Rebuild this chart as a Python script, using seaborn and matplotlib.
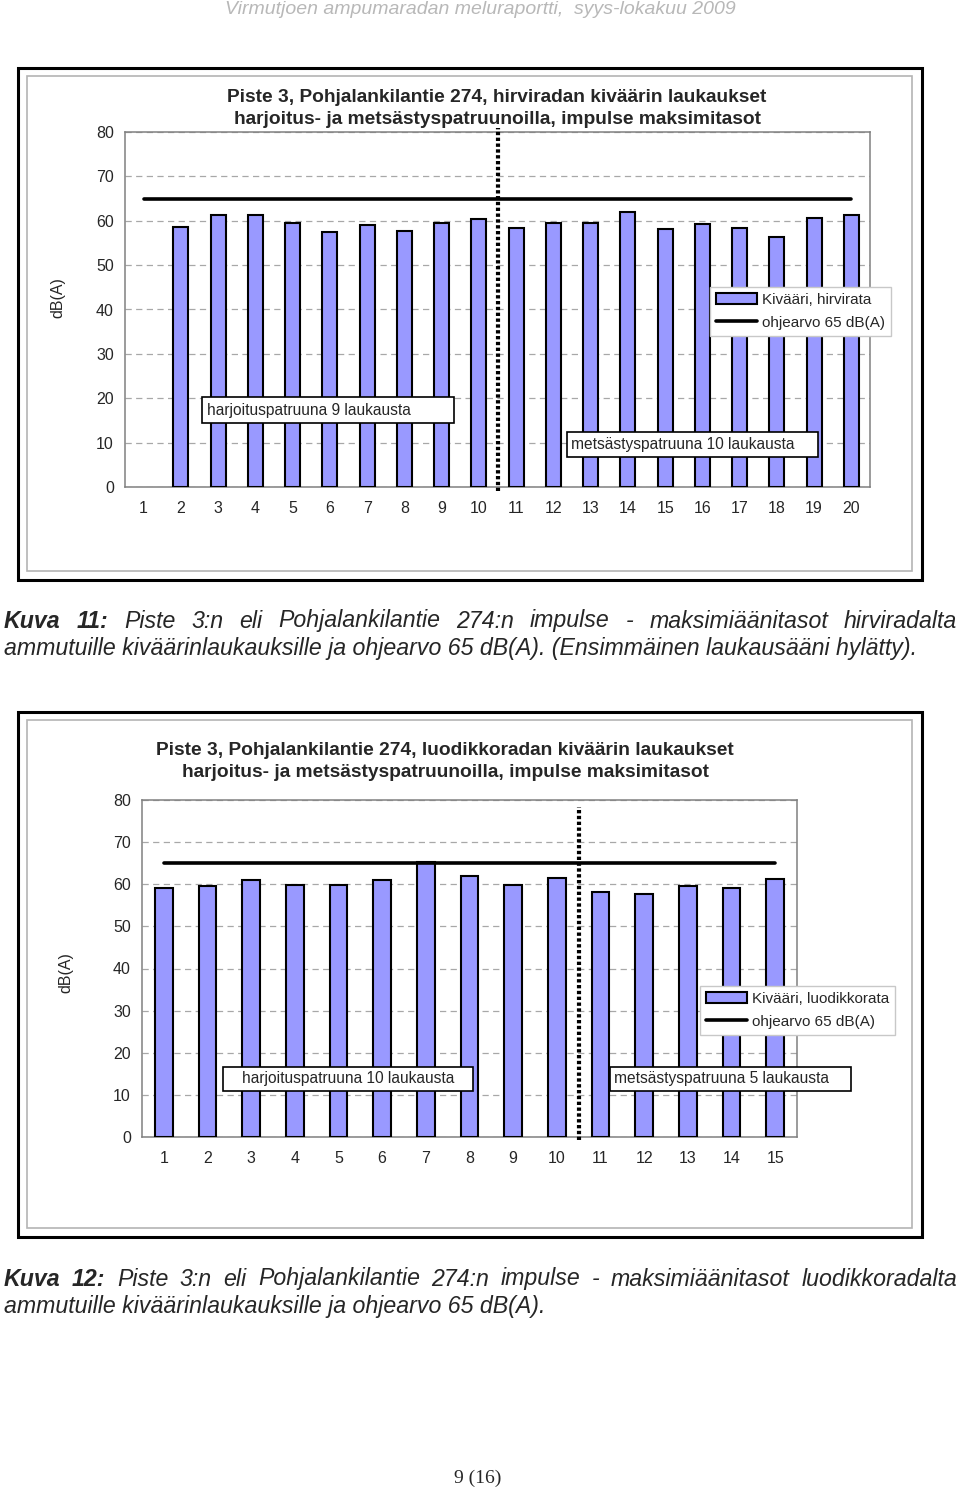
import matplotlib
matplotlib.use('Agg')
import matplotlib.pyplot as plt
import seaborn as sns
from matplotlib.patches import Rectangle

# Kuva 11: hirvirata, first shot discarded -> bars from shot 2
ticks_hirvi = list(range(1, 21))
shots_hirvi = list(range(2, 21))
levels_hirvi = [58.7, 61.4, 61.4, 59.6, 57.5, 59.0, 57.8, 59.6, 60.5,
                58.4, 59.6, 59.6, 61.9, 58.1, 59.3, 58.4, 56.3, 60.7, 61.4]

# Kuva 12: luodikkorata
ticks_luodi = list(range(1, 16))
shots_luodi = list(range(1, 16))
levels_luodi = [59.2, 59.5, 61.0, 59.8, 59.8, 61.0, 65.4, 62.0, 59.8, 61.6,
                58.2, 57.6, 59.5, 59.2, 61.3]

limit = 65          # ohjearvo dB(A)
split_after = 10    # harjoitus / metsästys boundary

BAR = '#9999ff'
W, H = 960, 1492

sns.set_style('white')
plt.rcParams['font.family'] = ['Liberation Sans', 'DejaVu Sans']


def fx(x):
    return x / W


def fy(y):
    return 1 - y / H


def frame(fig, x0, y0, x1, y1):
    fig.add_artist(Rectangle((fx(x0), fy(y1)), (x1 - x0) / W, (y1 - y0) / H,
                             transform=fig.transFigure, fill=False, ec='black', lw=2.2))
    fig.add_artist(Rectangle((fx(x0 + 9), fy(y1 - 9)), (x1 - x0 - 19) / W, (y1 - y0 - 17) / H,
                             transform=fig.transFigure, fill=False, ec='#b4b4b4', lw=1.2))


def box_label(fig, x0, y0, x1, y1, tx, text):
    fig.add_artist(Rectangle((fx(x0), fy(y1)), (x1 - x0) / W, (y1 - y0) / H,
                             transform=fig.transFigure, fc='white', ec='black', lw=1.2, zorder=5))
    fig.text(fx(tx), fy((y0 + y1) / 2), text, fontsize=11.2, va='center', ha='left', zorder=6)


def title(fig, x, y0, y1, lines):
    for y, txt in zip((y0, y1), lines):
        fig.text(fx(x), fy(y + 2), txt, fontsize=13.8, weight='bold', ha='center', va='center')


def chart(ax, shots, levels, ticks, label, ylab_xy, legend_xy):
    sns.barplot(x=shots, y=levels, native_scale=True, width=0.4, color=BAR, saturation=1,
                edgecolor='black', linewidth=1.5, label=label, ax=ax, zorder=3)
    sns.lineplot(x=[ticks[0], ticks[-1]], y=[limit, limit], color='black', linewidth=2.6,
                 label='ohjearvo 65 dB(A)', ax=ax, zorder=4)
    ax.axvline(split_after + 0.5, ymin=-0.01, ymax=1.01, color='black', lw=3,
               ls=(0, (0.8, 0.6)), clip_on=False, zorder=5)
    ax.set_xlim(0.5, len(ticks) + 0.5)
    ax.set_ylim(0, 80)
    ax.set_yticks(range(0, 81, 10))
    ax.set_xticks(ticks)
    ax.set_xticklabels([str(t) for t in ticks])
    ax.set_xticks([t + 0.5 for t in ticks[:-1]], minor=True)
    ax.set_axisbelow(True)
    ax.yaxis.grid(True, ls=(0, (5, 3.5)), color='#a8a8a8', lw=0.9)
    ax.xaxis.grid(False)
    for s in ax.spines.values():
        s.set_visible(True)
        s.set_color('#808080')
        s.set_linewidth(1.1)
    ax.tick_params(axis='y', which='major', length=5, color='#808080', pad=3, labelsize=11.5)
    ax.tick_params(axis='x', which='major', length=0, pad=10, labelsize=11.5)
    ax.tick_params(axis='x', which='minor', length=4, color='#808080', direction='out')
    ax.set_xlabel('')
    ax.set_ylabel('dB(A)', fontsize=11.5)
    ax.yaxis.set_label_coords(*ylab_xy)
    handles, labels = ax.get_legend_handles_labels()
    order = [labels.index(label), labels.index('ohjearvo 65 dB(A)')]
    ax.legend([handles[i] for i in order], [labels[i] for i in order],
              loc='upper left', bbox_to_anchor=(fx(legend_xy[0]), fy(legend_xy[1])),
              bbox_transform=ax.figure.transFigure, borderaxespad=0, fontsize=11,
              fancybox=False, edgecolor='#c8c8c8', framealpha=1, handlelength=2.7,
              handletextpad=0.3, borderpad=0.4, labelspacing=0.55)


def justified(fig, tokens, y, x0=4, x1=957, size=16.7):
    texts = []
    for word, weight in tokens:
        texts.append(fig.text(0, fy(y), word, fontsize=size, style='italic',
                              weight=weight, va='center', ha='left'))
    r = fig.canvas.get_renderer()
    widths = [t.get_window_extent(r).width for t in texts]
    gap = (x1 - x0 - sum(widths)) / (len(texts) - 1)
    x = x0
    for t, w in zip(texts, widths):
        t.set_x(fx(x))
        x += w + gap


fig = plt.figure(figsize=(9.6, 14.92), dpi=100)

fig.text(0.5, fy(10), 'Virmutjoen ampumaradan meluraportti,  syys-lokakuu 2009',
         family=['Liberation Sans Narrow', 'Liberation Sans'], style='italic',
         fontsize=14, color='#b8b8b8', ha='center', va='center')

# chart 1
frame(fig, 18, 68, 922, 580)
ax1 = fig.add_axes([fx(125), fy(487), (870 - 125) / W, (487 - 132) / H])
chart(ax1, shots_hirvi, levels_hirvi, ticks_hirvi, 'Kivääri, hirvirata',
      (-60 / 745, 0.535), (710, 287))
title(fig, 497, 96, 118, ['Piste 3, Pohjalankilantie 274, hirviradan kiväärin laukaukset',
                          'harjoitus- ja metsästyspatruunoilla, impulse maksimitasot'])
box_label(fig, 202, 397, 454, 423, 207, 'harjoituspatruuna 9 laukausta')
box_label(fig, 567, 432, 818, 457, 571, 'metsästyspatruuna 10 laukausta')

# chart 2
frame(fig, 18, 712, 922, 1237)
ax2 = fig.add_axes([fx(142), fy(1137), (797 - 142) / W, (1137 - 800) / H])
chart(ax2, shots_luodi, levels_luodi, ticks_luodi, 'Kivääri, luodikkorata',
      (-69 / 655, 0.487), (700, 986))
ax2.lines[-1].set_data([split_after + 0.5] * 2, [-0.01, 0.98])
title(fig, 445, 749, 771, ['Piste 3, Pohjalankilantie 274, luodikkoradan kiväärin laukaukset',
                           'harjoitus- ja metsästyspatruunoilla, impulse maksimitasot'])
box_label(fig, 223, 1067, 473, 1091, 242, 'harjoituspatruuna 10 laukausta')
box_label(fig, 610, 1067, 851, 1091, 614, 'metsästyspatruuna 5 laukausta')

# captions
line1 = [('Kuva', 'bold'), ('11:', 'bold')] + [(w, 'normal') for w in
         'Piste 3:n eli Pohjalankilantie 274:n impulse - maksimiäänitasot hirviradalta'.split()]
justified(fig, line1, 621)
fig.text(fx(4), fy(648), 'ammutuille kiväärinlaukauksille ja ohjearvo 65 dB(A). '
         '(Ensimmäinen laukausääni hylätty).', fontsize=16.7, style='italic', va='center')

line2 = [('Kuva', 'bold'), ('12:', 'bold')] + [(w, 'normal') for w in
         'Piste 3:n eli Pohjalankilantie 274:n impulse - maksimiäänitasot luodikkoradalta'.split()]
justified(fig, line2, 1279)
fig.text(fx(4), fy(1306), 'ammutuille kiväärinlaukauksille ja ohjearvo 65 dB(A).',
         fontsize=16.7, style='italic', va='center')

fig.text(fx(478), fy(1478), '9 (16)', family='Liberation Serif', fontsize=14,
         ha='center', va='center')

fig.savefig('out.png', dpi=100)
